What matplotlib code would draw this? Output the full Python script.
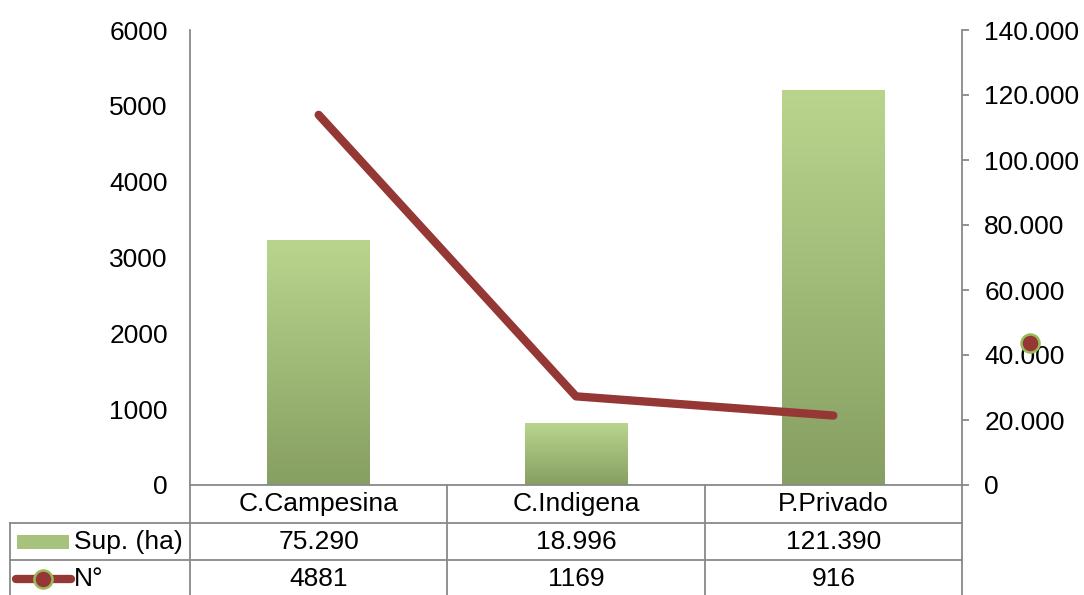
import matplotlib
matplotlib.use("Agg")
import matplotlib.pyplot as plt
import numpy as np
from matplotlib.colors import LinearSegmentedColormap
from matplotlib.lines import Line2D
from matplotlib.patches import Rectangle
from matplotlib import transforms

# ---- data ----
categories = ["C.Campesina", "C.Indigena", "P.Privado"]
sup_ha = [75290, 18996, 121390]
n_count = [4881, 1169, 916]
left_ticks = [0, 1000, 2000, 3000, 4000, 5000, 6000]
right_ticks = [0, 20000, 40000, 60000, 80000, 100000, 120000, 140000]
series_names = ["Sup. (ha)", "N°"]

plt.rcParams['font.family'] = ['Liberation Sans', 'DejaVu Sans']
FS = 19
W, H = 1084, 595
GRAY = '#898989'
RED = '#953735'
GREEN_EDGE = '#9bbb59'


def fmt(v):
    return f"{v:,.0f}".replace(",", ".")


def fx(px):
    return px / W


def fy(py):
    return 1 - py / H


fig = plt.figure(figsize=(W / 100, H / 100), dpi=100)
rect = [fx(190), fy(485), fx(962) - fx(190), fy(30) - fy(485)]
ax = fig.add_axes(rect)          # left axis: line
axb = ax.twinx()                 # right axis: bars
ax.set_zorder(axb.get_zorder() + 1)
ax.patch.set_visible(False)

x = np.arange(len(categories))
ax.set_xlim(-0.5, len(categories) - 0.5)
ax.set_ylim(left_ticks[0], left_ticks[-1])

# gradient bars
cmap = LinearSegmentedColormap.from_list("g", ["#869f62", "#b9d58d"])
grad = np.linspace(0, 1, 256).reshape(-1, 1)
bw = 0.4
for xi, v in zip(x, sup_ha):
    axb.imshow(grad, extent=[xi - bw / 2, xi + bw / 2, 0, v], origin='lower',
               cmap=cmap, aspect='auto', zorder=2)
axb.set_xlim(-0.5, len(categories) - 0.5)
axb.set_ylim(right_ticks[0], right_ticks[-1])

# line
ax.plot(x, n_count, color=RED, lw=6, solid_capstyle='round',
        solid_joinstyle='round', zorder=3)

# axes styling
for s in ['top', 'right']:
    ax.spines[s].set_visible(False)
for s in ['top', 'left', 'bottom']:
    axb.spines[s].set_visible(False)
ax.spines['left'].set_color(GRAY)
ax.spines['bottom'].set_color(GRAY)
axb.spines['right'].set_color(GRAY)
for sp in [ax.spines['left'], ax.spines['bottom'], axb.spines['right']]:
    sp.set_linewidth(1.3)

ax.set_yticks(left_ticks)
ax.set_yticklabels([str(t) for t in left_ticks], fontsize=FS)
ax.tick_params(axis='y', length=0, pad=16)
ax.set_xticks([])
axb.set_yticks(right_ticks)
axb.set_yticklabels([fmt(t) for t in right_ticks], fontsize=FS)
axb.tick_params(axis='y', length=5, width=1.3, color=GRAY, pad=11, direction='out')
axb.set_xticks([])

# ---- data table ----
bt = transforms.blended_transform_factory(ax.transData, fig.transFigure)
ft = fig.transFigure
lw_t = 1.3


def hline(x0px, x1px, ypx):
    fig.add_artist(Line2D([fx(x0px), fx(x1px)], [fy(ypx), fy(ypx)], transform=ft,
                          color=GRAY, lw=lw_t))


def vline(xd, y0px, y1px):
    fig.add_artist(Line2D([xd, xd], [fy(y0px), fy(y1px)], transform=bt,
                          color=GRAY, lw=lw_t))


for b in np.arange(len(categories) + 1) - 0.5:
    vline(b, 485, 596)
hline(10, 962, 523)
hline(10, 962, 560)
fig.add_artist(Line2D([fx(10), fx(10)], [fy(523), fy(596)], transform=ft, color=GRAY, lw=lw_t))

row_y = [504, 542, 579]
for xi, c, s, n in zip(x, categories, sup_ha, n_count):
    fig.text(xi, fy(row_y[0]), c, transform=bt, ha='center', va='center', fontsize=FS)
    fig.text(xi, fy(row_y[1]), fmt(s), transform=bt, ha='center', va='center', fontsize=FS)
    fig.text(xi, fy(row_y[2]), str(n), transform=bt, ha='center', va='center', fontsize=FS)

# legend keys in table
fig.add_artist(Rectangle((fx(17), fy(549)), fx(69) - fx(17), fy(535) - fy(549),
                         transform=ft, facecolor='#a6c27c', edgecolor='none'))
fig.text(fx(74), fy(row_y[1]), series_names[0], ha='left', va='center', fontsize=FS)
fig.add_artist(Line2D([fx(16), fx(71)], [fy(579), fy(579)], transform=ft, color=RED,
                      lw=6, solid_capstyle='round'))
fig.add_artist(Line2D([fx(43)], [fy(579)], transform=ft, marker='o', ms=13,
                      mfc=RED, mec=GREEN_EDGE, mew=1.8))
fig.text(fx(74), fy(row_y[2]), series_names[1], ha='left', va='center', fontsize=FS)

# stray marker near right axis
fig.add_artist(Line2D([fx(1030)], [fy(343)], transform=ft, marker='o', ms=13,
                      mfc=RED, mec=GREEN_EDGE, mew=1.8, zorder=10))

fig.savefig("out.png", dpi=100)
